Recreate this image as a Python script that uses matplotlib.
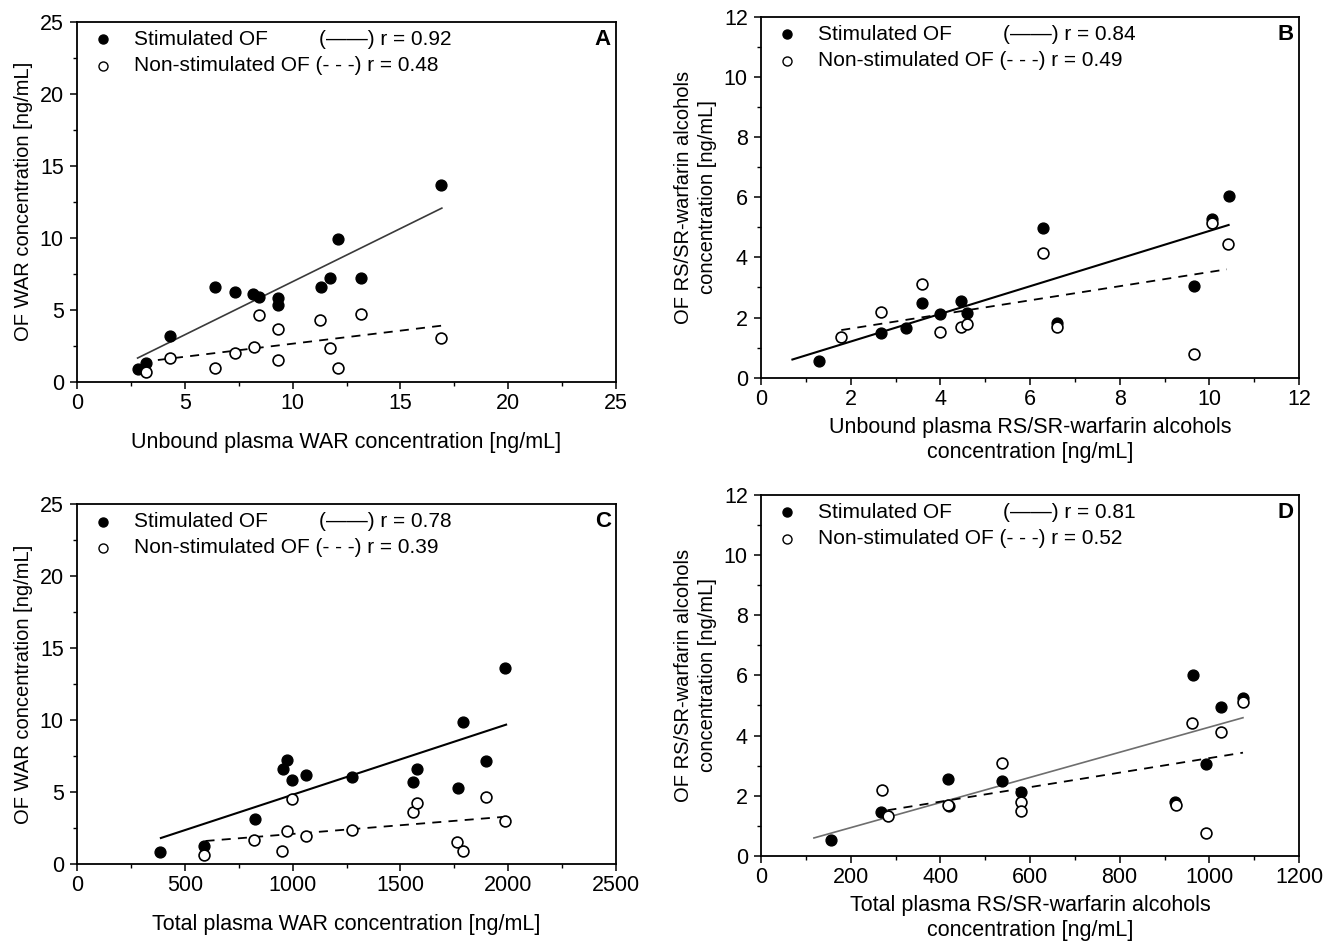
import matplotlib
matplotlib.use("Agg")
import matplotlib.pyplot as plt
from matplotlib.ticker import MultipleLocator
import numpy as np

plt.rcParams['font.family'] = ['Liberation Sans', 'DejaVu Sans']

# --- data ---
# A: unbound plasma WAR vs OF WAR
a_stim_x = [2.81, 3.20, 4.30, 6.42, 7.35, 8.16, 8.44, 9.30, 9.34, 11.31, 11.72, 12.12, 13.18, 16.89]
a_stim_y = [0.86, 1.32, 3.19, 6.60, 6.23, 6.06, 5.88, 5.79, 5.32, 6.60, 7.22, 9.88, 7.22, 13.66]
a_non_x = [3.21, 4.30, 6.42, 7.35, 8.20, 8.44, 9.30, 9.32, 11.29, 11.72, 12.12, 13.16, 16.89]
a_non_y = [0.67, 1.67, 0.97, 1.99, 2.43, 4.61, 3.63, 1.53, 4.28, 2.34, 0.95, 4.68, 3.03]
a_fit_range = {"stim": [2.81, 16.92], "non": [3.75, 16.9]}
a_r = [0.92, 0.48]

# B: unbound plasma RS/SR-warfarin alcohols
b_stim_x = [1.30, 2.68, 3.23, 3.59, 3.99, 4.46, 4.59, 6.30, 6.60, 9.66, 10.06, 10.44]
b_stim_y = [0.55, 1.47, 1.64, 2.49, 2.12, 2.56, 2.16, 4.97, 1.81, 3.06, 5.28, 6.04]
b_non_x = [1.79, 2.67, 3.59, 3.99, 4.45, 4.59, 6.30, 6.60, 9.66, 10.06, 10.42]
b_non_y = [1.34, 2.20, 3.10, 1.53, 1.70, 1.78, 4.14, 1.70, 0.78, 5.16, 4.43]
b_fit_range = {"stim": [0.70, 10.43], "non": [1.79, 10.39]}
b_r = [0.84, 0.49]

# C: total plasma WAR
c_stim_x = [384, 588, 825, 954, 974, 997, 1060, 1275, 1556, 1576, 1765, 1790, 1899, 1987]
c_stim_y = [0.83, 1.27, 3.15, 6.57, 7.20, 5.81, 6.18, 6.02, 5.69, 6.57, 5.30, 9.84, 7.18, 13.59]
c_non_x = [588, 823, 950, 975, 997, 1061, 1275, 1556, 1578, 1763, 1788, 1899, 1985]
c_non_y = [0.63, 1.64, 0.93, 2.31, 4.54, 1.92, 2.38, 3.59, 4.26, 1.50, 0.93, 4.65, 3.01]
c_fit_range = {"stim": [389, 1990], "non": [596, 1983]}
c_r = [0.78, 0.39]

# D: total plasma RS/SR-warfarin alcohols
d_stim_x = [156, 268, 417, 420, 537, 580, 924, 963, 992, 1027, 1075]
d_stim_y = [0.54, 1.46, 2.55, 1.65, 2.48, 2.13, 1.81, 6.01, 3.05, 4.95, 5.26]
d_non_x = [270, 283, 416, 537, 580, 579, 925, 962, 1026, 992, 1075]
d_non_y = [2.18, 1.34, 1.70, 3.08, 1.78, 1.50, 1.70, 4.41, 4.11, 0.76, 5.12]
d_fit_range = {"stim": [118, 1075], "non": [282, 1075]}
d_r = [0.81, 0.52]

fig = plt.figure(figsize=(13.3, 9.41), dpi=100)

panels = [
    dict(rect=[0.0579, 0.5944, 0.4053, 0.3826], label="A",
         sx=a_stim_x, sy=a_stim_y, nx=a_non_x, ny=a_non_y, fr=a_fit_range, r=a_r,
         xlim=(0, 25), ylim=(0, 25), xmaj=5, xmin=2.5, ymaj=5, ymin=2.5,
         xlabel="Unbound plasma WAR concentration [ng/mL]", xpad=13,
         ylabel="OF WAR concentration [ng/mL]", solid=("#3a3a3a", 1.2)),
    dict(rect=[0.5722, 0.5986, 0.4045, 0.3836], label="B",
         sx=b_stim_x, sy=b_stim_y, nx=b_non_x, ny=b_non_y, fr=b_fit_range, r=b_r,
         xlim=(0, 12), ylim=(0, 12), xmaj=2, xmin=1, ymaj=2, ymin=1,
         xlabel="Unbound plasma RS/SR-warfarin alcohols\nconcentration [ng/mL]", xpad=5,
         ylabel="OF RS/SR-warfarin alcohols\nconcentration [ng/mL]", solid=("black", 1.5)),
    dict(rect=[0.0579, 0.0818, 0.4053, 0.3826], label="C",
         sx=c_stim_x, sy=c_stim_y, nx=c_non_x, ny=c_non_y, fr=c_fit_range, r=c_r,
         xlim=(0, 2500), ylim=(0, 25), xmaj=500, xmin=250, ymaj=5, ymin=2.5,
         xlabel="Total plasma WAR concentration [ng/mL]", xpad=13,
         ylabel="OF WAR concentration [ng/mL]", solid=("black", 1.5)),
    dict(rect=[0.5722, 0.0903, 0.4045, 0.3840], label="D",
         sx=d_stim_x, sy=d_stim_y, nx=d_non_x, ny=d_non_y, fr=d_fit_range, r=d_r,
         xlim=(0, 1200), ylim=(0, 12), xmaj=200, xmin=100, ymaj=2, ymin=1,
         xlabel="Total plasma RS/SR-warfarin alcohols\nconcentration [ng/mL]", xpad=5,
         ylabel="OF RS/SR-warfarin alcohols\nconcentration [ng/mL]", solid=("#6e6e6e", 1.2)),
]

for p in panels:
    ax = fig.add_axes(p["rect"])

    # regression lines
    k, b = np.polyfit(p["sx"], p["sy"], 1)
    xs = np.array(p["fr"]["stim"])
    ax.plot(xs, k * xs + b, color=p["solid"][0], lw=p["solid"][1], zorder=2)
    k, b = np.polyfit(p["nx"], p["ny"], 1)
    xs = np.array(p["fr"]["non"])
    ax.plot(xs, k * xs + b, color="black", lw=1.3, dashes=(5, 4), zorder=2)

    # points
    ax.plot(p["sx"], p["sy"], "o", color="black", ms=7.8, zorder=3)
    ax.plot(p["nx"], p["ny"], "o", mfc="white", mec="black", mew=1.2, ms=7.8, zorder=4)

    ax.set_xlim(*p["xlim"])
    ax.set_ylim(*p["ylim"])
    ax.xaxis.set_major_locator(MultipleLocator(p["xmaj"]))
    ax.xaxis.set_minor_locator(MultipleLocator(p["xmin"]))
    ax.yaxis.set_major_locator(MultipleLocator(p["ymaj"]))
    ax.yaxis.set_minor_locator(MultipleLocator(p["ymin"]))
    ax.tick_params(which="major", direction="out", length=5, width=1.1, labelsize=15.5, pad=3)
    ax.tick_params(axis="y", which="major", pad=4.5)
    ax.tick_params(which="minor", direction="out", length=3, width=1.0)
    for s in ax.spines.values():
        s.set_linewidth(1.3)

    ax.set_xlabel(p["xlabel"], fontsize=15.5, labelpad=p["xpad"], linespacing=1.25)
    ax.set_ylabel(p["ylabel"], fontsize=14.5, labelpad=5, linespacing=1.35)

    # in-plot key
    y1, y2 = 0.951, 0.878
    ax.plot([0.048], [y1], "o", color="black", ms=6.5, transform=ax.transAxes, clip_on=False)
    ax.plot([0.048], [y2], "o", mfc="white", mec="black", mew=1.0, ms=6.5,
            transform=ax.transAxes, clip_on=False)
    ax.text(0.105, y1, "Stimulated OF", transform=ax.transAxes, fontsize=15, va="center")
    ax.text(0.449, y1, "(\u2014\u2014) r = %.2f" % p["r"][0], transform=ax.transAxes,
            fontsize=15, va="center")
    ax.text(0.105, y2, "Non-stimulated OF (- - -) r = %.2f" % p["r"][1],
            transform=ax.transAxes, fontsize=15, va="center")
    ax.text(0.99, y1, p["label"], transform=ax.transAxes, fontsize=16,
            fontweight="bold", ha="right", va="center")

fig.savefig("out.png", dpi=100)
